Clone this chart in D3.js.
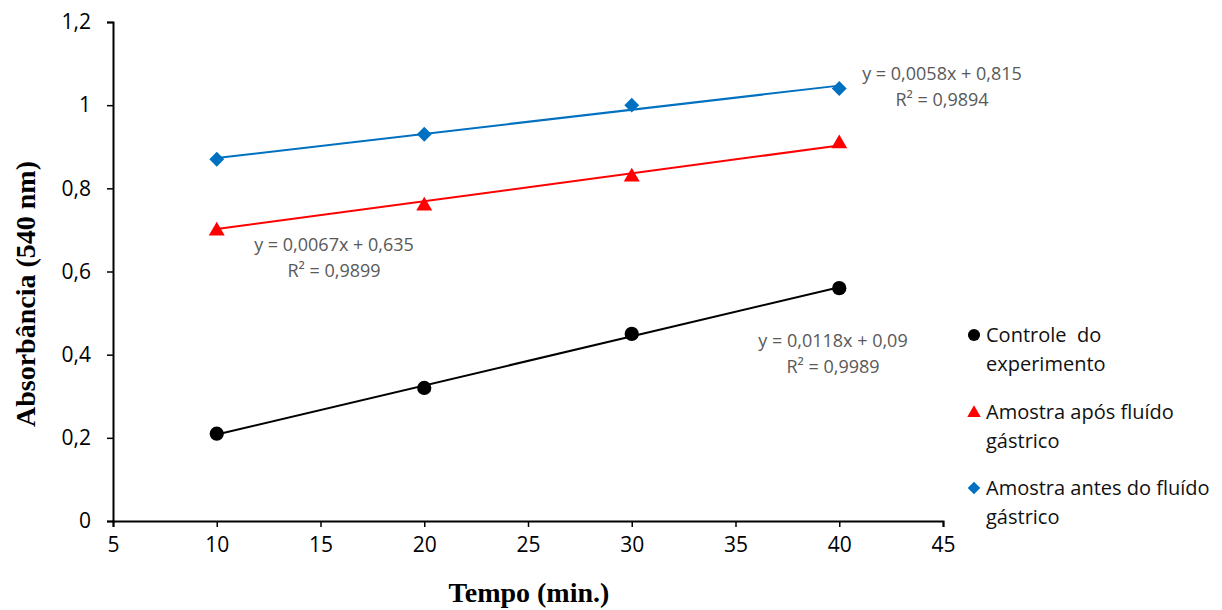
<!DOCTYPE html>
<html>
<head>
<meta charset="utf-8">
<script src="https://cdn.jsdelivr.net/npm/d3@7"></script>
<style>
  body { margin: 0; background: #fff; }
  svg text { font-family: "Open Sans", "Noto Sans", sans-serif; }
</style>
</head>
<body>
<svg id="chart" width="1222" height="610"></svg>
<script>
// data
const tempo = [10, 20, 30, 40]
const controle = [0.21, 0.32, 0.45, 0.56]
const aposFluido = [0.70, 0.76, 0.83, 0.91]
const antesFluido = [0.87, 0.93, 1.00, 1.04]
const xTicks = [5, 10, 15, 20, 25, 30, 35, 40, 45]
const yTicks = [0, 0.2, 0.4, 0.6, 0.8, 1, 1.2]

// trendlines: [slope, intercept, r2]
const fits = {
  controle: [0.0118, 0.09, '0,9989'],
  apos: [0.0067, 0.635, '0,9899'],
  antes: [0.0058, 0.815, '0,9894']
}

const series = [
  {key: 'controle', values: controle, color: '#000000', shape: 'circle', legend: ['Controle  do', 'experimento']},
  {key: 'apos', values: aposFluido, color: '#ff0000', shape: 'triangle', legend: ['Amostra após fluído', 'gástrico']},
  {key: 'antes', values: antesFluido, color: '#0070c0', shape: 'diamond', legend: ['Amostra antes do fluído', 'gástrico']}
]

const svg = d3.select('#chart')
const x = d3.scaleLinear().domain([5, 45]).range([113, 943])
const y = d3.scaleLinear().domain([0, 1.2]).range([521, 22])
const fmt = d => String(d).replace('.', ',')

/*
	Axes
*/
const gx = svg.append('g').attr('transform', `translate(0,${y(0)})`)
  .call(d3.axisBottom(x).tickValues(xTicks).tickSize(6).tickPadding(10).tickFormat(fmt))
const gy = svg.append('g').attr('transform', `translate(${x(5)},0)`)
  .call(d3.axisLeft(y).tickValues(yTicks).tickSize(6).tickPadding(16).tickFormat(fmt))
for (const g of [gx, gy]) {
  g.select('.domain').attr('stroke', '#000').attr('stroke-width', 2)
  g.selectAll('.tick line').attr('stroke', '#000').attr('stroke-width', 1.5)
  g.selectAll('.tick text').attr('fill', '#000').style('font-size', '21px')
}

svg.append('text')
  .attr('x', 529).attr('y', 602)
  .attr('text-anchor', 'middle')
  .style('font-family', '"Liberation Serif", "Times New Roman", serif')
  .style('font-weight', 'bold').style('font-size', '28px')
  .text('Tempo (min.)')

svg.append('text')
  .attr('transform', 'translate(35,294) rotate(-90)')
  .attr('text-anchor', 'middle')
  .style('font-family', '"Liberation Serif", "Times New Roman", serif')
  .style('font-weight', 'bold').style('font-size', '28px')
  .text('Absorbância (540 nm)')

/*
	Marker helpers
*/
const symbolFor = {
  circle: d3.symbol().type(d3.symbolCircle).size(160),
  triangle: d3.symbol().type(d3.symbolTriangle).size(110),
  diamond: d3.symbol().type(d3.symbolSquare).size(110)
}
function drawMarker(g, s, cx, cy, scale) {
  const p = g.append('path')
    .attr('d', symbolFor[s.shape]())
    .attr('fill', s.color)
  let t = `translate(${cx},${cy})`
  if (s.shape === 'diamond') t += ' rotate(45)'
  if (s.shape === 'triangle') t += ' translate(0,1)'
  if (scale) t += ` scale(${scale})`
  p.attr('transform', t)
}

/*
	Trendlines + markers
*/
series.forEach(s => {
  const [m, b] = fits[s.key]
  const ends = [tempo[0], tempo[tempo.length - 1]]
  svg.append('path')
    .datum(ends)
    .attr('fill', 'none')
    .attr('stroke', s.color)
    .attr('stroke-width', 2)
    .attr('d', d3.line().x(d => x(d)).y(d => y(m * d + b)))
  const g = svg.append('g')
  s.values.forEach((v, i) => drawMarker(g, s, x(tempo[i]), y(v)))
})

/*
	Equation labels
*/
const eqPos = {controle: [833, 341], apos: [334, 245], antes: [942, 74]}
series.forEach(s => {
  const [m, b, r2] = fits[s.key]
  const [cx, cy] = eqPos[s.key]
  const t = svg.append('text')
    .attr('text-anchor', 'middle').attr('fill', '#595959')
    .style('font-size', '18px')
  t.append('tspan').attr('x', cx).attr('y', cy + 6).text(`y = ${fmt(m)}x + ${fmt(b)}`)
  t.append('tspan').attr('x', cx).attr('y', cy + 32).text(`R² = ${r2}`)
})

/*
	Legend
*/
const legendY = [335, 412, 488]
series.forEach((s, i) => {
  const g = svg.append('g')
  drawMarker(g, s, 974, legendY[i], 0.85)
  const t = g.append('text').attr('fill', '#111').style('font-size', '20px').style('white-space', 'pre')
  s.legend.forEach((line, j) => {
    t.append('tspan').attr('x', 986).attr('y', legendY[i] + 7 + j * 29).text(line)
  })
})
</script>
</body>
</html>
